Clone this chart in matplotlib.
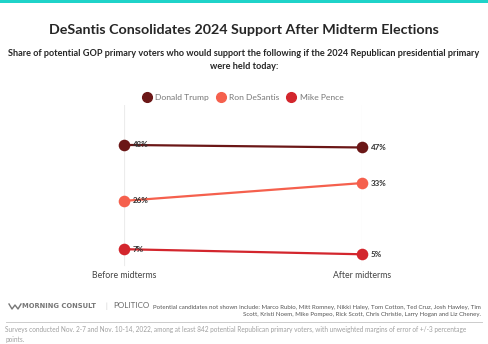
import matplotlib.pyplot as plt
from matplotlib.lines import Line2D
from matplotlib.patches import Rectangle

plt.rcParams['font.family'] = ['Lato', 'DejaVu Sans']

periods = ["Before midterms", "After midterms"]
candidates = ["Donald Trump", "Ron DeSantis", "Mike Pence"]
trump = [48, 47]
desantis = [26, 33]
pence = [7, 5]
colors = ["#6b1717", "#f5604d", "#d3262d"]

W, H = 488, 344
fig = plt.figure(figsize=(W / 100, H / 100), dpi=100)
fig.patch.set_facecolor("white")

# teal strip across the top
fig.add_artist(Rectangle((0, 1 - 3 / H), 1, 3 / H, transform=fig.transFigure,
                         color="#1fd3c9", lw=0))

fig.text(0.5, 1 - 30 / H, "DeSantis Consolidates 2024 Support After Midterm Elections",
         ha="center", va="center", fontsize=10.3, fontweight="bold", color="#262626")
fig.text(0.5, 1 - 60 / H,
         "Share of potential GOP primary voters who would support the following if the 2024 Republican presidential primary\nwere held today:",
         ha="center", va="center", fontsize=6.55, fontweight="bold", color="#262626",
         linespacing=1.55)

ax = fig.add_axes([124 / W, 77 / H, 238 / W, 162 / H])
ax.set_xlim(0, 1)
ax.set_ylim(0, 63.7)
for s in ax.spines.values():
    s.set_visible(False)
ax.set_xticks([])
ax.set_yticks([])
for x in (0, 1):
    ax.axvline(x, color="#ececec", lw=0.8, ymin=0.01, ymax=1, zorder=0)

series = [trump, desantis, pence]
for name, vals, c in zip(candidates, series, colors):
    ax.plot([0, 1], vals, color=c, lw=1.6, zorder=2, clip_on=False)
    ax.scatter([0, 1], vals, s=70, color=c, zorder=3, clip_on=False, linewidths=0)
    ax.text(0.037, vals[0], f"{vals[0]}%", ha="left", va="center", fontsize=5.8,
            fontweight="bold", color="#333333", zorder=4)
    ax.text(1.037, vals[1], f"{vals[1]}%", ha="left", va="center", fontsize=5.8,
            fontweight="bold", color="#333333", zorder=4)

for x, lab in zip((0, 1), periods):
    ax.text(x, -3.2, lab, ha="center", va="center", fontsize=6.3, color="#444444")

# legend
handles = [Line2D([], [], marker="o", ls="", color=c, markersize=7) for c in colors]
fig.legend(handles, candidates, loc="center", bbox_to_anchor=(244 / W, 1 - 97 / H),
           ncol=3, frameon=False, fontsize=6.1, labelcolor="#777777",
           handletextpad=0.7, columnspacing=1.1, handlelength=0.6)

# footer
logo = Line2D([9 / W, 12 / W, 15 / W, 18 / W, 21 / W],
              [1 - 304 / H, 1 - 309 / H, 1 - 305 / H, 1 - 309 / H, 1 - 304 / H],
              transform=fig.transFigure, color="#777777", lw=1.0)
fig.add_artist(logo)
fig.text(22 / W, 1 - 306 / H, "MORNING CONSULT", ha="left", va="center", fontsize=4.9,
         fontweight="bold", color="#777777", family="DejaVu Sans")
fig.text(105 / W, 1 - 306 / H, "|", ha="left", va="center", fontsize=5, color="#cccccc")
fig.text(113 / W, 1 - 306 / H, "POLITICO", ha="left", va="center", fontsize=5.8,
         color="#666666")
fig.text(481 / W, 1 - 311 / H,
         "Potential candidates not shown include: Marco Rubio, Mitt Romney, Nikki Haley, Tom Cotton, Ted Cruz, Josh Hawley, Tim\nScott, Kristi Noem, Mike Pompeo, Rick Scott, Chris Christie, Larry Hogan and Liz Cheney.",
         ha="right", va="center", fontsize=4.45, color="#555555", linespacing=1.5,
         multialignment="right")
fig.add_artist(Line2D([6 / W, 482 / W], [1 - 322 / H, 1 - 322 / H], transform=fig.transFigure,
                      color="#cccccc", lw=0.7))
fig.text(5 / W, 1 - 334 / H,
         "Surveys conducted Nov. 2-7 and Nov. 10-14, 2022, among at least 842 potential Republican primary voters, with unweighted margins of error of +/-3 percentage\npoints.",
         ha="left", va="center", fontsize=4.72, color="#a0a0a0", linespacing=1.5)

fig.savefig("out.png", dpi=100)
